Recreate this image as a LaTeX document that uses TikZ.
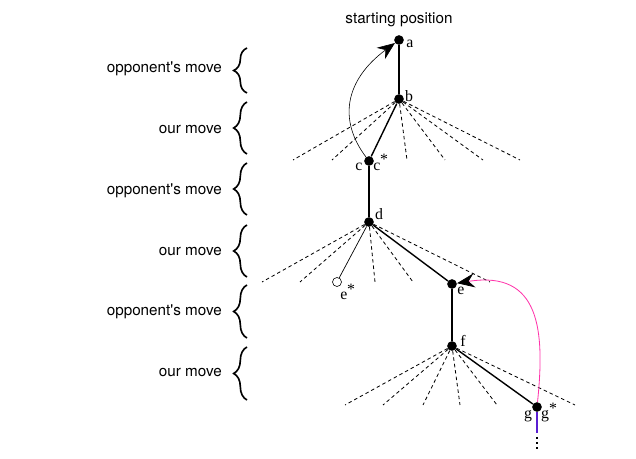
\documentclass[tikz,border=0pt]{standalone}
\usepackage{fontspec}
\usetikzlibrary{arrows.meta,decorations.pathreplacing}
\newfontfamily\sidefont{TeX Gyre Heros}
\newfontfamily\lblfont{Liberation Serif}
\definecolor{pinkline}{RGB}{255,51,170}
\definecolor{violetline}{RGB}{90,30,210}

\begin{document}
\begin{tikzpicture}[x=0.03cm,y=-0.03cm,
	gamepos/.style={circle, fill=black, minimum size=0.29cm, inner sep=0pt},
	hollow/.style={circle, draw=black, line width=0.5pt, fill=white, minimum size=0.27cm, inner sep=0pt},
	lbl/.style={font=\lblfont\fontsize{13.5}{13.5}\selectfont, inner sep=0pt},
	side/.style={font=\sidefont\fontsize{13}{15}\selectfont, anchor=east, inner sep=0pt},
	line/.style={line width=1.2pt},
	branch/.style={dash pattern=on 3pt off 2.5pt, line width=0.7pt},
	movebrace/.style={decorate, decoration={brace, amplitude=0.4cm}, line width=1.4pt},
	backarrow/.style={-{Stealth[length=15pt, width=12pt, inset=5pt, color=black]}}]
		\useasboundingbox (0,0) rectangle (636,459);
		
		\node[font=\sidefont\fontsize{13}{15}\selectfont] (start) at (399,20) {starting position};
		
		\node[gamepos] (a) at (399,40) {};
		\node[gamepos] (b) at (399,99) {};
		\node[gamepos] (c) at (369,161) {};
		\node[gamepos] (d) at (369,222) {};
		\node[hollow] (estar) at (337,282) {};
		\node[gamepos] (e) at (452,284) {};
		\node[gamepos] (f) at (452,346) {};
		\node[gamepos] (g) at (537,407) {};
		
		\node[lbl] (la) at (410,44) {a};
		\node[lbl] (lb) at (409,96) {b};
		\node[lbl] (lc) at (359,167) {c};
		\node[lbl] (lcstar) at (377,167) {c};
		\node[lbl] (scstar) at (384,159) {*};
		\node[lbl] (ld) at (379,214) {d};
		\node[lbl] (lestar) at (344,296) {e};
		\node[lbl] (sestar) at (351,289) {*};
		\node[lbl] (le) at (461,291) {e};
		\node[lbl] (lf) at (463,341) {f};
		\node[lbl] (lg) at (528,416) {g};
		\node[lbl] (lgstar) at (545,416) {g};
		\node[lbl] (sgstar) at (553,408) {*};
		
		\draw[line] (a) -- (b);
		\draw[line] (b) -- (c);
		\draw[line] (c) -- (d);
		\draw[line] (d) -- (e);
		\draw[line width=0.6pt] (d) -- (estar);
		\draw[line] (e) -- (f);
		\draw[line] (f) -- (g);
		
		\foreach \x in {293,332,407,445,483,520}
			\coordinate (b\x) at (\x,160);
		\foreach \x in {293,332,407,445,483,520}
			\draw[branch] (b) -- (b\x);
		
		\foreach \x in {262,300,375,413,490}
			\coordinate (d\x) at (\x,282);
		\foreach \x in {262,300,375,413,490}
			\draw[branch] (d) -- (d\x);
		
		\foreach \x in {345,383,423,460,497,575}
			\coordinate (f\x) at (\x,405);
		\foreach \x in {345,383,423,460,497,575}
			\draw[branch] (f) -- (f\x);
		
		\coordinate (gdown) at (537,433);
		\draw[violetline, line width=1.4pt] (g) -- (gdown);
		\draw[line width=1.3pt, dash pattern=on 1.3pt off 3pt] (537,437) -- (537,450);
		
		\draw[line width=0.5pt, backarrow] (c) .. controls (338,120) and (345,80) .. (a);
		\draw[pinkline, line width=0.7pt, backarrow] (g) .. controls (545,330) and (540,270) .. (e);
		
		\draw[movebrace] (247,93) -- (247,48);
		\draw[movebrace] (247,154) -- (247,102);
		\draw[movebrace] (247,215) -- (247,163);
		\draw[movebrace] (247,277) -- (247,225);
		\draw[movebrace] (247,338) -- (247,285);
		\draw[movebrace] (247,400) -- (247,347);
		
		\node[side] (m1) at (222,69) {opponent\textquotesingle s move};
		\node[side] (m2) at (222,130) {our move};
		\node[side] (m3) at (222,191) {opponent\textquotesingle s move};
		\node[side] (m4) at (222,252) {our move};
		\node[side] (m5) at (222,312) {opponent\textquotesingle s move};
		\node[side] (m6) at (222,373) {our move};
		
	\end{tikzpicture}
\end{document}
